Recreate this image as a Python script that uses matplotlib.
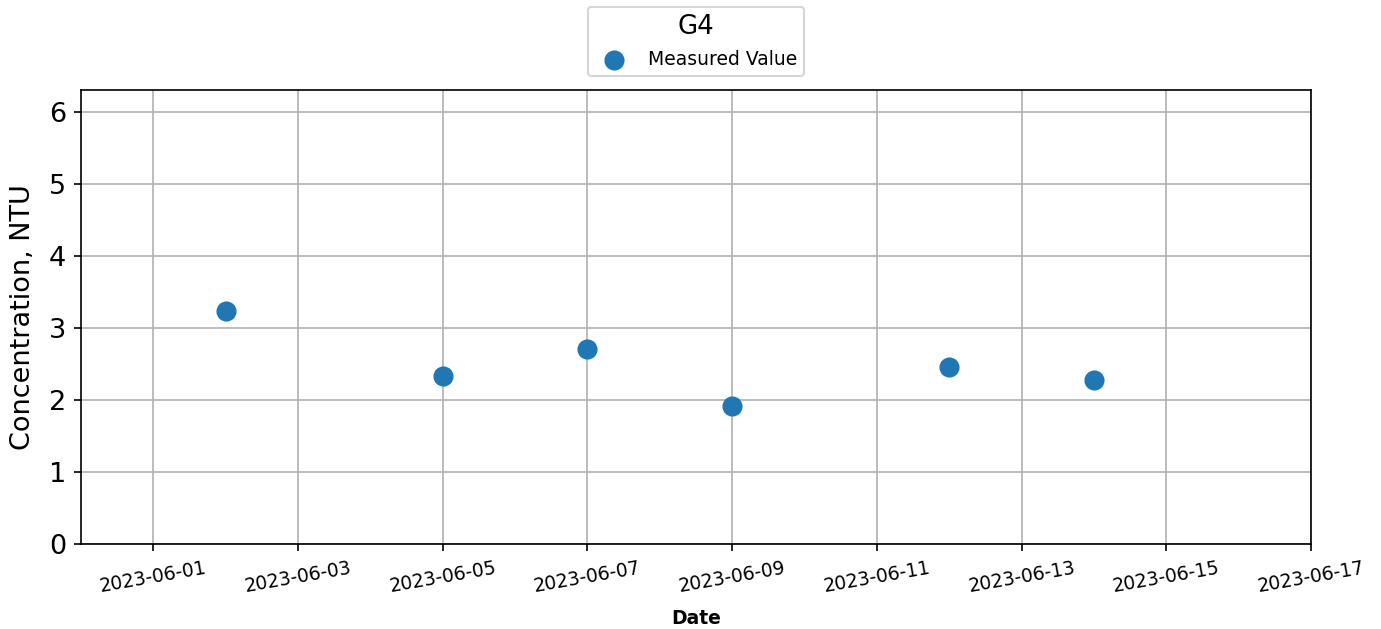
import numpy as np
import pandas as pd
import matplotlib
matplotlib.use('Agg')
import matplotlib.pyplot as plt
import matplotlib.dates as mdates

# sample dates and measured turbidity (NTU) for station G4
dates = ['2023-06-02', '2023-06-05', '2023-06-07', '2023-06-09', '2023-06-12', '2023-06-14']
values = [3.24, 2.33, 2.70, 1.91, 2.46, 2.28]

tick_dates = ['2023-06-01', '2023-06-03', '2023-06-05', '2023-06-07', '2023-06-09',
              '2023-06-11', '2023-06-13', '2023-06-15', '2023-06-17']
x_start = '2023-05-31'
x_end = '2023-06-17'

dates = pd.to_datetime(dates)
ticks = pd.to_datetime(tick_dates)

W, H = 1381, 629
dpi = 150
fig = plt.figure(figsize=(W / dpi, H / dpi), dpi=dpi)
ax = fig.add_axes([81 / W, 1 - 544 / H, (1311 - 81) / W, (544 - 90) / H])

ax.scatter(dates, values, s=75, color='#1f77b4', label='Measured Value', zorder=3)

ax.set_xlim(pd.Timestamp(x_start), pd.Timestamp(x_end))
ax.set_ylim(0, 6.3)
ax.set_xticks(ticks)
ax.xaxis.set_major_formatter(mdates.DateFormatter('%Y-%m-%d'))
ax.tick_params(axis='x', labelsize=9, labelrotation=10)
ax.tick_params(axis='y', labelsize=13)
ax.grid(True)

ax.set_xlabel('Date', fontsize=9, fontweight='bold', labelpad=6)
ax.set_ylabel('Concentration, NTU', fontsize=13, labelpad=6.5)

leg = ax.legend(title='G4', loc='lower center', bbox_to_anchor=(0.5, 1.01),
                fontsize=9, title_fontsize=12.5)

fig.savefig('out.png', dpi=dpi)
